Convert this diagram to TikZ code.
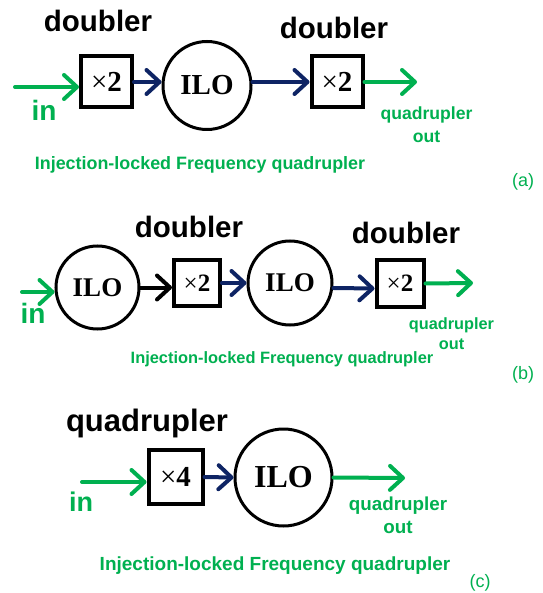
\documentclass[tikz,border=0pt]{standalone}
\usepackage{fontspec}
\setmainfont{Liberation Serif}
\newfontfamily\sansf{Liberation Sans}
\usetikzlibrary{arrows.meta}
\definecolor{grn}{RGB}{0,176,80}
\definecolor{navy}{RGB}{14,36,100}
\newcommand{\fs}[1]{\fontsize{#1}{#1}\selectfont}
\tikzset{
  lbl/.style={font=\sansf\bfseries\fs{29.5}, inner sep=0},
  ilo/.style={circle, draw, line width=3pt, inner sep=0, font=\bfseries\fs{#1}},
  mult/.style={rectangle, draw, line width=4pt, inner sep=0, font=\bfseries\fs{#1}},
  intxt/.style={font=\sansf\bfseries\fs{28}, text=grn, inner sep=0},
  outtxt/.style={font=\sansf\bfseries\fs{#1}, text=grn, inner sep=0, align=center},
  captxt/.style={font=\sansf\bfseries\fs{#1}, text=grn, inner sep=0},
  tag/.style={font=\sansf\fs{18}, text=grn, inner sep=0},
  tip/.style={-{Straight Barb[length=13pt,width=24pt,round]}, line width=4pt, line cap=round},
  garrow/.style={tip, draw=grn},
  barrow/.style={tip, draw=navy},
  karrow/.style={tip, draw=black},
}
\begin{document}
\begin{tikzpicture}[x=1pt,y=-1pt]
\useasboundingbox (0,0) rectangle (542,593);
% ---------- (a)
\node[lbl] (la1) at (98,21) {doubler};
\node[mult=29, minimum size=51pt] (b1) at (106.5,82) {{\mdseries×}2};
\coordinate (inA) at (15,87);
\draw[garrow] (inA) -- (inA -| b1.west);
\node[intxt] (tinA) at (44,110) {in};
\node[ilo=29, minimum size=88pt] (i1) at (207,85.5) {ILO};
\draw[barrow] (b1.east) -- (b1.east -| i1.west);
\node[mult=29, minimum size=51pt] (b2) at (337,82) {{\mdseries×}2};
\node[lbl] (la2) at (334,28) {doubler};
\draw[barrow] (i1.east |- b2) -- (b2.west);
\coordinate (outA) at (417,82);
\draw[garrow] (b2.east) -- (outA);
\node[outtxt=17.6] (toutA) at (426.5,125) {quadrupler\\[5pt]out};
\node[captxt=17.9] (capA) at (200,165) {Injection-locked Frequency quadrupler};
\node[tag] (tagA) at (523,182) {(a)};
% ---------- (b)
\node[ilo=27, minimum size=83pt] (i2) at (97.5,287.5) {ILO};
\coordinate (inB) at (22,292);
\draw[garrow] (inB) -- (inB -| i2.west);
\node[intxt] (tinB) at (33,313) {in};
\node[mult=25, minimum size=46pt] (b3) at (197,283) {{\mdseries×}2};
\node[lbl] (lb1) at (189,227) {doubler};
\draw[karrow] (i2.east) -- (i2.east -| b3.west);
\node[ilo=27, minimum size=84pt] (i3) at (290,283) {ILO};
\draw[barrow] (b3.east) -- (i3.west);
\node[mult=25, minimum size=47pt] (b4) at (400,283.5) {{\mdseries×}2};
\node[lbl] (lb2) at (406,233) {doubler};
\draw[barrow] ([yshift=-5pt]i3.east) -- ([yshift=-5pt]b4.west);
\coordinate (outB) at (473,283);
\draw[garrow] (b4.east) -- (outB);
\node[outtxt=16.3] (toutB) at (451.5,334) {quadrupler\\[4pt]out};
\node[captxt=16.4] (capB) at (282,359) {Injection-locked Frequency quadrupler};
\node[tag] (tagB) at (523,375) {(b)};
% ---------- (c)
\node[lbl, font=\sansf\bfseries\fs{31}] (lc1) at (147,423) {quadrupler};
\node[mult=29, minimum size=54pt] (b5) at (175.5,477) {{\mdseries×}4};
\coordinate (inC) at (82,482);
\draw[garrow] (inC) -- (inC -| b5.west);
\node[intxt, font=\sansf\bfseries\fs{27}] (tinC) at (81,502) {in};
\node[ilo=32, minimum size=97pt] (i4) at (283.5,477.5) {ILO};
\draw[barrow] (b5.east) -- (i4.west);
\coordinate (outC) at (405,478);
\draw[garrow] (i4.east) -- (outC);
\node[outtxt=18.8] (toutC) at (398,515) {quadrupler\\[4pt]out};
\node[captxt=19] (capC) at (275,566) {Injection-locked Frequency quadrupler};
\node[tag] (tagC) at (480,583) {(c)};
\end{tikzpicture}
\end{document}
